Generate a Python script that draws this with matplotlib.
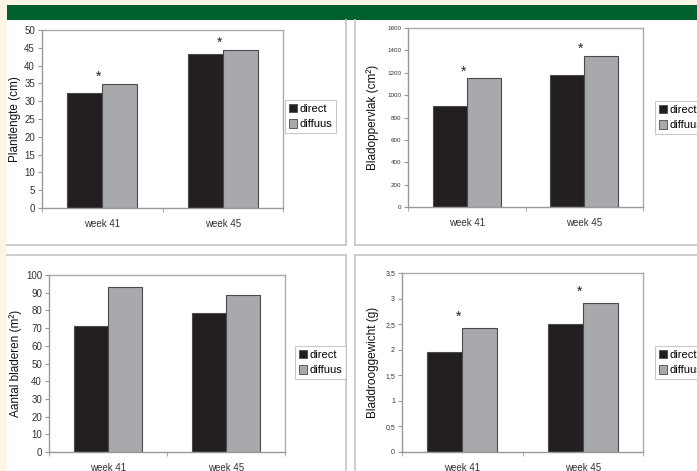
import matplotlib.pyplot as plt
from matplotlib.patches import Rectangle, Patch
from matplotlib.lines import Line2D
import numpy as np

plt.rcParams['font.family'] = ['Liberation Sans', 'DejaVu Sans']

W, H = 697, 471

weeks = ["week 41", "week 45"]
series = ["direct", "diffuus"]

plantlengte_direct = [32.2, 43.3]
plantlengte_diffuus = [34.8, 44.5]
plantlengte_sig = [True, True]

bladoppervlak_direct = [900, 1180]
bladoppervlak_diffuus = [1150, 1350]
bladoppervlak_sig = [True, True]

bladeren_direct = [71.1, 78.7]
bladeren_diffuus = [93.4, 88.9]
bladeren_sig = [False, False]

drooggewicht_direct = [1.96, 2.50]
drooggewicht_diffuus = [2.42, 2.91]
drooggewicht_sig = [True, True]

DARK = "#231f20"
GREY = "#a7a9ac"
EDGE = "#4a4a4a"
BORDER = "#c9c9c9"


def px(x0, y0, x1, y1):
    return [x0 / W, 1 - y1 / H, (x1 - x0) / W, (y1 - y0) / H]


fig = plt.figure(figsize=(W / 100, H / 100), dpi=100)
fig.patch.set_facecolor("#fdf5e3")

# page background, green band, panel borders
bg = fig.add_axes([0, 0, 1, 1])
bg.set_xlim(0, W)
bg.set_ylim(H, 0)
bg.axis("off")
bg.add_patch(Rectangle((7, 5), W - 7, H - 5, facecolor="white", edgecolor="none"))
bg.add_patch(Rectangle((7, 5), W - 7, 15, facecolor="#00602e", edgecolor="none"))
lw = 1.3
bg.add_line(Line2D([346, 346], [20, 245], color=BORDER, lw=lw))
bg.add_line(Line2D([7, 346], [245, 245], color=BORDER, lw=lw))
bg.add_line(Line2D([355, 355], [20, 245], color=BORDER, lw=lw))
bg.add_line(Line2D([355, W], [245, 245], color=BORDER, lw=lw))
bg.add_line(Line2D([7, 346], [255, 255], color=BORDER, lw=lw))
bg.add_line(Line2D([346, 346], [255, H], color=BORDER, lw=lw))
bg.add_line(Line2D([355, W], [255, 255], color=BORDER, lw=lw))
bg.add_line(Line2D([355, 355], [255, H], color=BORDER, lw=lw))


def panel(box, d1, d2, sig, ymax, step, ylabel, tick_fs, ylab_x, leg_box, leg_fs,
          star_off, comma=False):
    ax = fig.add_axes(px(*box))
    x = np.arange(len(weeks))
    w = 0.29
    ax.bar(x - w / 2, d1, w, color=DARK, edgecolor=EDGE, lw=0.8, label=series[0])
    ax.bar(x + w / 2, d2, w, color=GREY, edgecolor=EDGE, lw=0.8, label=series[1])
    for i, s in enumerate(sig):
        if s:
            ax.annotate("*", (x[i] - 0.03, max(d1[i], d2[i])), xytext=(0, star_off),
                        textcoords="offset points", ha="center", va="bottom",
                        fontsize=10, color="#222")
    ax.set_xlim(-0.5, 1.5)
    ax.set_ylim(0, ymax)
    ticks = np.arange(0, ymax + step / 2, step)
    ax.set_yticks(ticks)
    if comma:
        ax.set_yticklabels([("%g" % t).replace(".", ",") for t in ticks])
    ax.set_xticks(x)
    ax.set_xticklabels(weeks, fontsize=7, color="#333")
    ax.set_xticks([-0.5, 0.5, 1.5], minor=True)
    ax.tick_params(axis="x", which="major", length=0, pad=8)
    ax.tick_params(axis="x", which="minor", length=3, color="#999", direction="out")
    ax.tick_params(axis="y", labelsize=tick_fs, length=3, color="#999",
                   labelcolor="#333", pad=2)
    for sp in ax.spines.values():
        sp.set_color("#aaaaaa")
        sp.set_linewidth(1.0)
    ax.spines["left"].set_color("#999999")
    ax.spines["bottom"].set_color("#999999")
    fig.text(ylab_x / W, 1 - ((box[1] + box[3]) / 2) / H, ylabel, rotation=90,
             ha="center", va="center", fontsize=8.5, color="#111")
    handles = [Patch(facecolor=DARK, edgecolor=EDGE, lw=0.6),
               Patch(facecolor=GREY, edgecolor=EDGE, lw=0.6)]
    leg = fig.legend(handles, series, loc="upper left",
                     bbox_to_anchor=(leg_box[0] / W, 1 - leg_box[1] / H),
                     fontsize=leg_fs, frameon=True, fancybox=False,
                     handlelength=0.75, handleheight=0.75, handletextpad=0.2,
                     borderpad=0.35, labelspacing=0.5, borderaxespad=0)
    leg.get_frame().set_edgecolor("#bbbbbb")
    leg.get_frame().set_linewidth(0.8)
    return ax


panel((42, 30, 283, 208), plantlengte_direct, plantlengte_diffuus, plantlengte_sig,
      50, 5, "Plantlengte (cm)", 7, 15, (285, 100), 8, 0)
panel((408, 28, 643, 207), bladoppervlak_direct, bladoppervlak_diffuus, bladoppervlak_sig,
      1600, 200, "Bladoppervlak (cm²)", 4.5, 373, (655, 101), 8, 0)
panel((49, 275, 285, 452), bladeren_direct, bladeren_diffuus, bladeren_sig,
      100, 10, "Aantal bladeren (m²)", 7, 16, (295, 346), 8, 0)
panel((402, 273, 643, 452), drooggewicht_direct, drooggewicht_diffuus, drooggewicht_sig,
      3.5, 0.5, "Bladdrooggewicht (g)", 5, 373, (655, 346), 8, 3, comma=True)

fig.savefig("out.png", dpi=100, facecolor=fig.get_facecolor())
